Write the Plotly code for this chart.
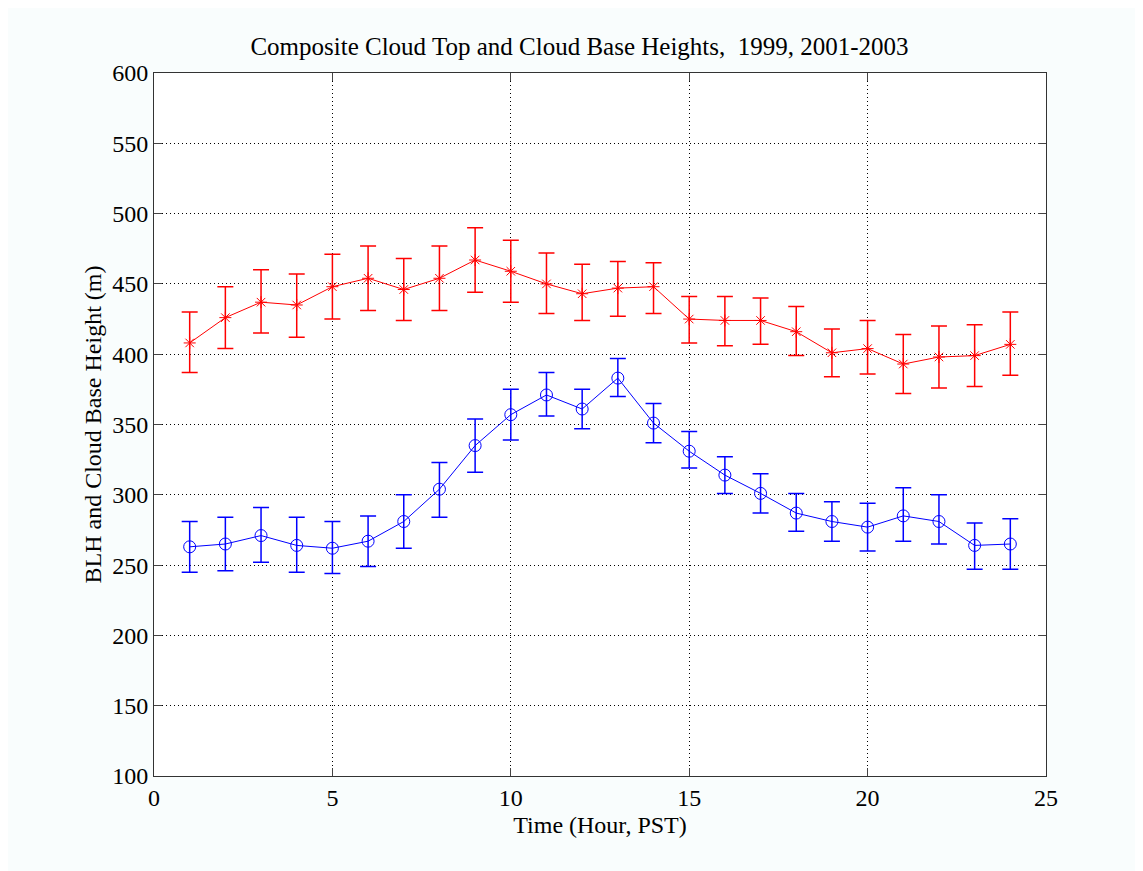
import plotly.graph_objects as go

hours = list(range(1, 25))

cloud_top = [408, 426, 437, 435, 448, 454, 446, 454, 467, 459, 450, 443,
             447, 448, 425, 424, 424, 416, 401, 404, 393, 398, 399, 407]
cloud_top_upper = [430, 448, 460, 457, 471, 477, 468, 477, 490, 481, 472, 464,
                   466, 465, 441, 441, 440, 434, 418, 424, 414, 420, 421, 430]
cloud_top_lower = [387, 404, 415, 412, 425, 431, 424, 431, 444, 437, 429, 424,
                   427, 429, 408, 406, 407, 399, 384, 386, 372, 376, 377, 385]

cloud_base = [263, 265, 271, 264, 262, 267, 281, 304, 335, 357, 371, 361,
              383, 351, 331, 314, 301, 287, 281, 277, 285, 281, 264, 265]
cloud_base_upper = [281, 284, 291, 284, 281, 285, 300, 323, 354, 375, 387, 375,
                    397, 365, 345, 327, 315, 301, 295, 294, 305, 300, 280, 283]
cloud_base_lower = [245, 246, 252, 245, 244, 249, 262, 284, 316, 339, 356, 347,
                    370, 337, 319, 301, 287, 274, 267, 260, 267, 265, 247, 247]

x_ticks = [0, 5, 10, 15, 20, 25]
y_ticks = [100, 150, 200, 250, 300, 350, 400, 450, 500, 550, 600]

def errs(vals, up, lo):
    return [u - v for u, v in zip(up, vals)], [v - l for v, l in zip(vals, lo)]

tu, tl = errs(cloud_top, cloud_top_upper, cloud_top_lower)
bu, bl = errs(cloud_base, cloud_base_upper, cloud_base_lower)

fig = go.Figure()
fig.add_trace(go.Scatter(
    x=hours, y=cloud_top, mode="lines+markers",
    line=dict(color="#ff0000", width=1),
    marker=dict(symbol="asterisk-open", size=10, color="#ff0000", line=dict(width=1, color="#ff0000")),
    error_y=dict(type="data", symmetric=False, array=tu, arrayminus=tl,
                 color="#ff0000", thickness=1.5, width=8),
    showlegend=False))
fig.add_trace(go.Scatter(
    x=hours, y=cloud_base, mode="lines+markers",
    line=dict(color="#0000ff", width=1),
    marker=dict(symbol="circle-open", size=12, color="#0000ff", line=dict(width=1, color="#0000ff")),
    error_y=dict(type="data", symmetric=False, array=bu, arrayminus=bl,
                 color="#0000ff", thickness=1.5, width=8),
    showlegend=False))

font = dict(family="Liberation Serif, Times New Roman, serif", color="black")

fig.update_layout(
    width=1143, height=871,
    paper_bgcolor="#f9fdfd", plot_bgcolor="#ffffff",
    margin=dict(l=146, r=105, t=65, b=103),
    font=dict(size=24, **font),
    title=dict(text="Composite Cloud Top and Cloud Base Heights,  1999, 2001-2003",
               x=0.5, xanchor="center", y=1 - 38 / 871, yanchor="middle",
               font=dict(size=25, **font)),
    xaxis=dict(range=[0, 25], tickvals=x_ticks, ticks="inside", ticklen=8,
               showgrid=True, gridcolor="black", griddash="1px,3px", gridwidth=1,
               showline=True, linecolor="#333333", linewidth=1, mirror="ticks",
               zeroline=False, tickfont=dict(size=24, **font),
               title=dict(text="Time (Hour, PST)", standoff=6, font=dict(size=24, **font))),
    yaxis=dict(range=[100, 600], tickvals=y_ticks, ticks="inside", ticklen=8,
               showgrid=True, gridcolor="black", griddash="1px,3px", gridwidth=1,
               showline=True, linecolor="#333333", linewidth=1, mirror="ticks",
               zeroline=False, tickfont=dict(size=24, **font),
               title=dict(text="BLH and Cloud Base Height (m)", standoff=3, font=dict(size=24, **font))),
)

fig.write_html("out.html")
